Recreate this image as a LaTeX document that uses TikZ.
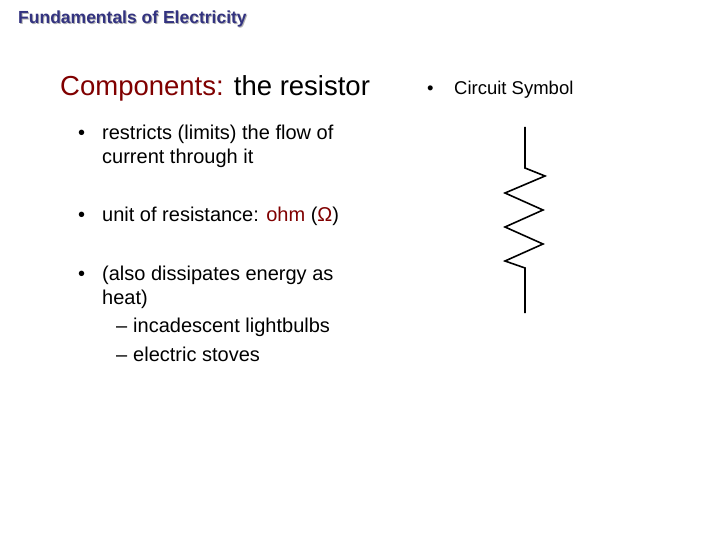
\documentclass[tikz,border=0pt]{standalone}
\usepackage{fontspec}
\setmainfont{Liberation Sans}
\definecolor{navy}{RGB}{51,51,128}
\definecolor{dred}{RGB}{128,0,0}
\begin{document}
\begin{tikzpicture}[x=1pt,y=-1pt,
  t/.style={anchor=base west,inner sep=0pt,font=\fontsize{20}{22}\selectfont},
  s/.style={anchor=base west,inner sep=0pt,font=\fontsize{18.5}{20}\selectfont}]
\useasboundingbox[fill=white] (0,0) rectangle (720,540);
\node[anchor=base west,inner sep=0pt,font=\bfseries\fontsize{17.5}{19}\selectfont,text=gray!60] (sh) at (19,25) {Fundamentals of Electricity};
\node[anchor=base west,inner sep=0pt,font=\bfseries\fontsize{17.5}{19}\selectfont,text=navy] (title) at (18,24) {Fundamentals of Electricity};
\node[anchor=base west,inner sep=0pt,font=\fontsize{27.5}{30}\selectfont] (h) at (60,96) {\textcolor{dred}{Components:} the resistor};
\node[t] (b1) at (78,140) {•};
\node[t] (l1) at (102,140) {restricts (limits) the flow of};
\node[t] (l1b) at (102,164) {current through it};
\node[t] (b2) at (78,222) {•};
\node[t] (l2) at (102,222) {unit of resistance: \textcolor{dred}{ohm} (\textcolor{dred}{Ω})};
\node[t] (b3) at (78,280) {•};
\node[t] (l3) at (102,280) {(also dissipates energy as};
\node[t] (l3b) at (102,304) {heat)};
\node[t] (d1) at (116,332) {–};
\node[t] (l4) at (133,332) {incadescent lightbulbs};
\node[t] (d2) at (116,361) {–};
\node[t] (l5) at (133,361) {electric stoves};
\node[s] (b4) at (427,95) {•};
\node[s] (cs) at (454,95) {Circuit Symbol};
\draw[line width=1.6pt,line join=miter] (525,127) -- (525,168) -- (545,176) -- (505,193) -- (543,210) -- (505,227) -- (543,244) -- (505,261) -- (525,268) -- (525,313);
\end{tikzpicture}
\end{document}
